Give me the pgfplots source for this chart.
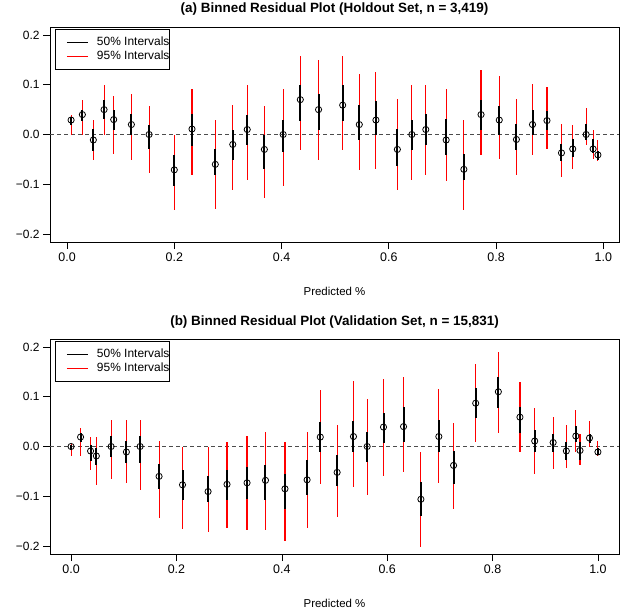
\documentclass[border=0pt]{standalone}
\usepackage{fontspec}
\setmainfont{Liberation Sans}
\usepackage{pgfplots}
\pgfplotsset{compat=1.18}
\usepackage{pgfplotstable}

% x, mean residual, 95% and 50% interval ends
\pgfplotstableread{
x y lo95 hi95 lo50 hi50
0.0075 0.029 0.000 0.040 0.020 0.035
0.0286 0.040 0.000 0.070 0.028 0.050
0.049 -0.011 -0.052 0.030 -0.033 0.011
0.069 0.050 0.000 0.100 0.031 0.070
0.087 0.030 -0.040 0.078 0.009 0.050
0.120 0.020 -0.052 0.081 0.000 0.041
0.153 0.000 -0.078 0.058 -0.030 0.019
0.200 -0.071 -0.152 0.000 -0.103 -0.041
0.233 0.011 -0.082 0.092 -0.023 0.041
0.2765 -0.060 -0.150 0.030 -0.081 -0.029
0.309 -0.020 -0.111 0.060 -0.051 0.009
0.336 0.010 -0.091 0.099 -0.021 0.040
0.368 -0.030 -0.127 0.058 -0.069 0.000
0.403 0.000 -0.103 0.091 -0.035 0.030
0.435 0.070 -0.031 0.158 0.028 0.099
0.469 0.050 -0.052 0.150 0.009 0.081
0.514 0.059 -0.031 0.158 0.028 0.099
0.545 0.020 -0.072 0.121 -0.011 0.060
0.576 0.029 -0.069 0.125 -0.002 0.068
0.616 -0.030 -0.112 0.071 -0.063 0.011
0.643 0.000 -0.091 0.099 -0.031 0.030
0.669 0.010 -0.082 0.100 -0.021 0.041
0.707 -0.011 -0.093 0.091 -0.042 0.031
0.740 -0.070 -0.152 0.030 -0.091 -0.040
0.772 0.040 -0.041 0.129 0.009 0.070
0.806 0.029 -0.050 0.117 0.000 0.058
0.838 -0.010 -0.082 0.071 -0.032 0.021
0.868 0.020 -0.042 0.101 0.000 0.050
0.895 0.028 -0.030 0.095 0.009 0.048
0.922 -0.037 -0.085 0.021 -0.053 -0.020
0.943 -0.029 -0.069 0.019 -0.046 -0.009
0.968 0.000 -0.022 0.054 -0.011 0.021
0.981 -0.029 -0.050 0.010 -0.038 -0.009
0.990 -0.041 -0.053 -0.011 -0.052 -0.033
}\holdout

\pgfplotstableread{
x y lo95 hi95 lo50 hi50
0.000 0.000 -0.019 0.006 -0.007 0.004
0.018 0.019 -0.019 0.038 0.009 0.028
0.037 -0.009 -0.048 0.019 -0.029 0.003
0.048 -0.019 -0.078 0.020 -0.038 -0.003
0.076 0.000 -0.066 0.054 -0.022 0.022
0.105 -0.011 -0.074 0.053 -0.033 0.011
0.131 0.000 -0.088 0.054 -0.034 0.022
0.167 -0.060 -0.144 0.012 -0.085 -0.035
0.2115 -0.077 -0.165 0.000 -0.108 -0.048
0.260 -0.0905 -0.171 0.000 -0.111 -0.060
0.296 -0.076 -0.164 0.009 -0.107 -0.048
0.334 -0.073 -0.168 0.021 -0.106 -0.041
0.369 -0.068 -0.167 0.030 -0.108 -0.038
0.406 -0.085 -0.190 0.009 -0.125 -0.056
0.448 -0.067 -0.164 0.029 -0.097 -0.028
0.473 0.019 -0.076 0.114 -0.011 0.050
0.505 -0.052 -0.141 0.044 -0.079 -0.017
0.536 0.020 -0.082 0.132 -0.011 0.051
0.562 0.000 -0.097 0.096 -0.032 0.030
0.593 0.039 -0.059 0.136 0.008 0.068
0.631 0.040 -0.052 0.140 0.009 0.080
0.664 -0.106 -0.202 -0.011 -0.139 -0.072
0.698 0.020 -0.074 0.115 -0.012 0.053
0.726 -0.038 -0.125 0.048 -0.076 -0.009
0.768 0.087 0.009 0.166 0.057 0.117
0.811 0.110 0.028 0.190 0.078 0.140
0.852 0.059 -0.011 0.129 0.028 0.080
0.880 0.011 -0.056 0.078 -0.012 0.034
0.915 0.008 -0.045 0.060 -0.011 0.026
0.940 -0.009 -0.044 0.043 -0.027 0.009
0.958 0.021 -0.012 0.074 0.009 0.042
0.966 -0.008 -0.037 0.026 -0.027 0.009
0.984 0.017 -0.001 0.051 0.007 0.025
1.000 -0.011 -0.019 0.011 -0.017 -0.004
}\validation

\pgfplotsset{
  binres/.style={
    scale only axis, width=569bp, height=215bp,
    ymin=-0.216, ymax=0.216,
    ytick={-0.2,-0.1,0,0.1,0.2},
    yticklabels={−0.2,−0.1,0.0,0.1,0.2},
    xtick={0,0.2,0.4,0.6,0.8,1},
    xticklabels={0.0,0.2,0.4,0.6,0.8,1.0},
    tick pos=left, tick align=outside,
    major tick length=7bp,
    tick style={black, line width=0.6bp},
    axis line style={line width=0.8bp},
    xticklabel style={font=\fontsize{12.5}{14}\selectfont},
    yticklabel style={font=\fontsize{12}{14}\selectfont},
    xlabel={Predicted \%},
    xlabel style={at={(axis description cs:0.5,0)}, anchor=center, yshift=-49bp,
      font=\fontsize{11.5}{13}\selectfont},
    title style={at={(axis description cs:0.5,1)}, anchor=center, yshift=11.5bp,
      font=\bfseries\fontsize{13.5}{15}\selectfont},
    legend style={at={(0.0093,0.989)}, anchor=north west, draw=black, line width=0.6bp,
      font=\fontsize{12}{14}\selectfont, cells={anchor=west},
      nodes={inner sep=0bp, text height=9bp, text depth=3bp},
      inner xsep=0bp, inner ysep=7bp, row sep=2bp, column sep=0bp},
    legend image code/.code={\path[draw=none] (0bp,0bp) (41.4bp,0bp);
      \draw[#1] (11.4bp,0bp) -- (32bp,0bp);},
  },
  ci95/.style={draw=none, forget plot, error bars/.cd, y dir=both, y explicit,
    error mark=none, error bar style={red, line width=1.1bp}},
  ci50/.style={draw=none, forget plot, error bars/.cd, y dir=both, y explicit,
    error mark=none, error bar style={black, line width=2bp}},
  pts/.style={only marks, forget plot, mark=o, mark size=3.1bp,
    mark options={black, line width=0.8bp}},
  zeroline/.style={forget plot, black!70, line width=1.3bp, dash pattern=on 4bp off 3bp},
}

\begin{document}
\begin{tikzpicture}
\useasboundingbox (0,0) rectangle (627bp,-613bp);

\begin{axis}[binres, at={(50bp,-242bp)}, anchor=south west,
  xmin=-0.0318, xmax=1.0293,
  title={(a) Binned Residual Plot (Holdout Set, n = 3,419)}]
\addlegendimage{black, line width=1bp}
\addlegendentry{50\% Intervals\hspace{6bp}}
\addlegendimage{red, line width=1bp}
\addlegendentry{95\% Intervals\hspace{6bp}}
\addplot[zeroline] coordinates {(-0.0318,0) (1.0293,0)};
\addplot[ci95] table[x=x, y=y, y error plus expr=\thisrow{hi95}-\thisrow{y},
  y error minus expr=\thisrow{y}-\thisrow{lo95}] {\holdout};
\addplot[ci50] table[x=x, y=y, y error plus expr=\thisrow{hi50}-\thisrow{y},
  y error minus expr=\thisrow{y}-\thisrow{lo50}] {\holdout};
\addplot[pts] table[x=x, y=y] {\holdout};
\end{axis}

\begin{axis}[binres, at={(50bp,-554bp)}, anchor=south west,
  xmin=-0.04, xmax=1.04,
  title={(b) Binned Residual Plot (Validation Set, n = 15,831)}]
\addlegendimage{black, line width=1bp}
\addlegendentry{50\% Intervals\hspace{6bp}}
\addlegendimage{red, line width=1bp}
\addlegendentry{95\% Intervals\hspace{6bp}}
\addplot[zeroline] coordinates {(-0.04,0) (1.04,0)};
\addplot[ci95] table[x=x, y=y, y error plus expr=\thisrow{hi95}-\thisrow{y},
  y error minus expr=\thisrow{y}-\thisrow{lo95}] {\validation};
\addplot[ci50] table[x=x, y=y, y error plus expr=\thisrow{hi50}-\thisrow{y},
  y error minus expr=\thisrow{y}-\thisrow{lo50}] {\validation};
\addplot[pts] table[x=x, y=y] {\validation};
\end{axis}
\end{tikzpicture}
\end{document}
